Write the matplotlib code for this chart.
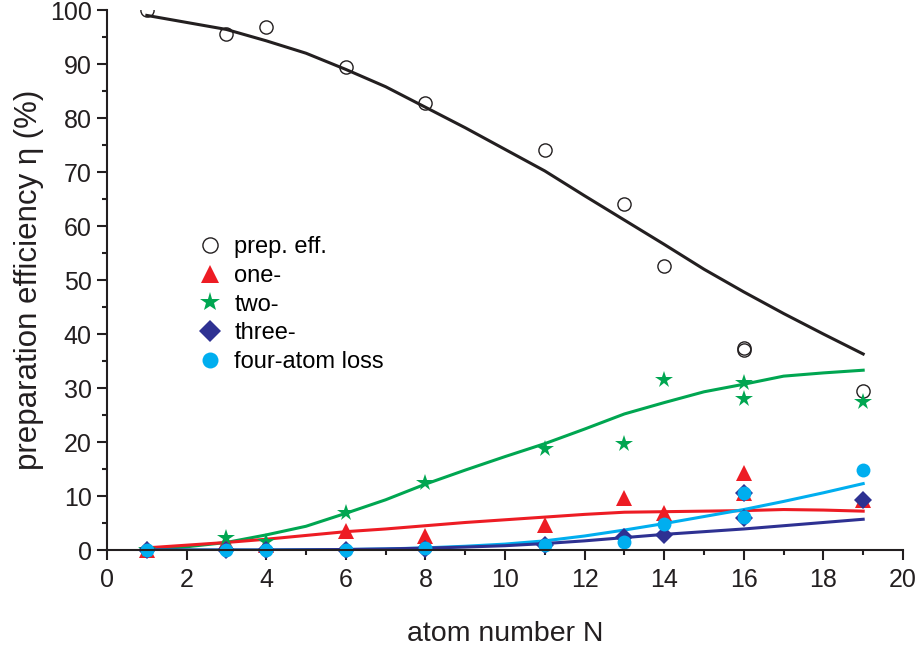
import matplotlib.pyplot as plt
from matplotlib.ticker import MultipleLocator

plt.rcParams['font.family'] = ['Liberation Sans', 'DejaVu Sans']

# 測量點
n_prep = [1, 3, 4, 6, 8, 11, 13, 14, 16, 16, 19]
prep_eff = [100, 95.6, 96.9, 89.4, 82.8, 74.1, 64.1, 52.6, 37.4, 37.0, 29.4]

n_one = [1, 3, 4, 6, 8, 11, 13, 14, 16, 16, 19]
one_loss = [0, 1.5, 1.0, 3.5, 2.6, 4.6, 9.7, 6.8, 14.2, 10.5, 9.3]

n_two = [1, 3, 4, 6, 8, 11, 13, 14, 16, 16, 19]
two_loss = [0, 2.3, 1.4, 6.9, 12.5, 18.7, 19.6, 31.5, 31.0, 28.0, 27.5]

n_three = [1, 3, 4, 6, 8, 11, 13, 14, 16, 16, 19]
three_loss = [0, 0, 0, 0, 0.2, 1.0, 2.5, 2.8, 10.5, 5.9, 9.3]

n_four = [1, 3, 4, 6, 8, 11, 13, 14, 16, 16, 19]
four_loss = [0, 0, 0, 0, 0.3, 0.9, 1.5, 4.9, 10.5, 6.2, 14.9]

# 模型曲線
n_fit = list(range(1, 20))
prep_fit = [99.0, 97.7, 96.4, 94.3, 92.0, 89.0, 85.8, 82.0, 78.2, 74.2,
            70.2, 65.6, 61.1, 56.6, 52.0, 47.8, 43.8, 40.0, 36.3]
one_fit = [0.4, 0.9, 1.4, 2.0, 2.7, 3.4, 3.9, 4.5, 5.1, 5.6,
           6.1, 6.6, 7.0, 7.1, 7.2, 7.3, 7.5, 7.4, 7.2]
two_fit = [0.1, 0.6, 1.4, 2.8, 4.4, 6.8, 9.3, 12.2, 14.8, 17.3,
           19.7, 22.4, 25.2, 27.3, 29.3, 30.7, 32.2, 32.8, 33.3]
three_fit = [0, 0, 0, 0, 0.05, 0.1, 0.2, 0.35, 0.55, 0.8,
             1.2, 1.7, 2.3, 2.9, 3.4, 3.9, 4.5, 5.1, 5.7]
four_fit = [0, 0, 0, 0, 0.05, 0.1, 0.2, 0.4, 0.7, 1.1,
            1.7, 2.6, 3.7, 4.9, 6.2, 7.5, 9.0, 10.6, 12.3]

black = '#231F20'
red = '#ED1C24'
green = '#00A651'
navy = '#2E3192'
cyan = '#00AEEF'

fig = plt.figure(figsize=(9.2, 6.5), dpi=100)
ax = fig.add_axes([0.1163, 0.1538, 0.8652, 0.8308])

# 曲線
ax.plot(n_fit, prep_fit, color=black, lw=2.2)
ax.plot(n_fit, two_fit, color=green, lw=2.2)
ax.plot(n_fit, one_fit, color=red, lw=2.2)
ax.plot(n_fit, four_fit, color=cyan, lw=2.2)
ax.plot(n_fit, three_fit, color=navy, lw=2.2)

# 點
ax.plot(n_prep, prep_eff, 'o', mfc='none', mec=black, mew=1, ms=9.5,
        label='prep. eff.')
ax.plot(n_one, one_loss, '^', color=red, ms=11.5, mew=0, label='one-',
        clip_on=False)
ax.plot(n_two, two_loss, '*', color=green, ms=13, mew=0, label='two-',
        clip_on=False)
ax.plot(n_three, three_loss, 'D', color=navy, ms=9.5, mew=0, label='three-',
        clip_on=False)
ax.plot(n_four, four_loss, 'o', color=cyan, ms=10, mew=0,
        label='four-atom loss', clip_on=False)

ax.set_xlim(0, 20)
ax.set_ylim(0, 100)
ax.xaxis.set_major_locator(MultipleLocator(2))
ax.xaxis.set_minor_locator(MultipleLocator(1))
ax.yaxis.set_major_locator(MultipleLocator(10))
ax.yaxis.set_minor_locator(MultipleLocator(5))
ax.tick_params(which='major', direction='out', length=7, width=1.5,
               labelsize=18, color=black, labelcolor=black, pad=4)
ax.tick_params(axis='x', which='major', pad=6)
ax.tick_params(which='minor', direction='out', length=3.5, width=1.5,
               color=black)

for side in ['top', 'right']:
    ax.spines[side].set_visible(False)
for side in ['left', 'bottom']:
    ax.spines[side].set_linewidth(1.5)
    ax.spines[side].set_color(black)

ax.set_xlabel('atom number N', fontsize=20.5, color=black, labelpad=21)
ax.set_ylabel('preparation efficiency η (%)', fontsize=22.5, color=black,
              labelpad=4)

ax.legend(loc='upper left', bbox_to_anchor=(0.083, 0.62), frameon=False,
          fontsize=17, handletextpad=0.4, labelspacing=0.28,
          handlelength=1.3, markerscale=1.15)

fig.savefig('out.png', dpi=100)
